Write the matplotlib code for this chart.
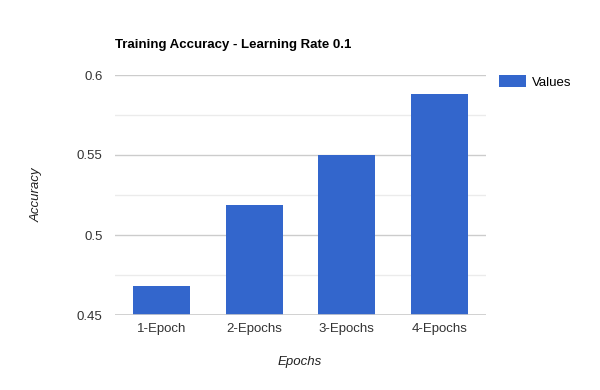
import matplotlib.pyplot as plt
from matplotlib.ticker import MultipleLocator

plt.rcParams['font.family'] = ['Liberation Sans', 'DejaVu Sans']

# data
epochs = ["1-Epoch", "2-Epochs", "3-Epochs", "4-Epochs"]
accuracy = [0.468, 0.519, 0.55, 0.588]

fig = plt.figure(figsize=(6, 3.9), dpi=100)
ax = fig.add_axes([115/600, 1-315/390, 371/600, 240/390])

bars = ax.bar(epochs, accuracy, width=0.615, color="#3366cc", label="Values", zorder=3)

ax.set_ylim(0.45, 0.6)
ax.set_xlim(-0.5, 3.5)
ax.yaxis.set_minor_locator(MultipleLocator(0.025))
ax.set_yticks([0.45, 0.5, 0.55, 0.6])
ax.set_yticklabels(["0.45", "0.5", "0.55", "0.6"])
ax.grid(axis="y", which="major", color="#cccccc", linewidth=1, zorder=0)
ax.grid(axis="y", which="minor", color="#ebebeb", linewidth=1, zorder=0)
for s in ax.spines.values():
    s.set_visible(False)
ax.axhline(0.45, color="#cccccc", linewidth=1.2, zorder=4)
ax.tick_params(axis="both", which="both", length=0, labelsize=9.5, labelcolor="#333333")
ax.tick_params(axis="y", pad=9)
ax.tick_params(axis="x", pad=6)

fig.text(115/600, 1-45/390, "Training Accuracy - Learning Rate 0.1",
         fontsize=9.5, fontweight="bold", color="#000000", va="center", ha="left")
fig.text(37/600, 1-195/390, "Accuracy", rotation=90, fontsize=9.5, style="italic",
         color="#222222", va="center", ha="center")
fig.text(300/600, 1-362/390, "Epochs", fontsize=9.5, style="italic",
         color="#222222", va="center", ha="center")

fig.legend(handles=[bars], labels=["Values"], loc="upper left",
           bbox_to_anchor=(494/600, 1-70/390), frameon=False, fontsize=9.5,
           handlelength=2.0, handleheight=1.0, handletextpad=0.5, borderaxespad=0)

fig.savefig("out.png", dpi=100)
